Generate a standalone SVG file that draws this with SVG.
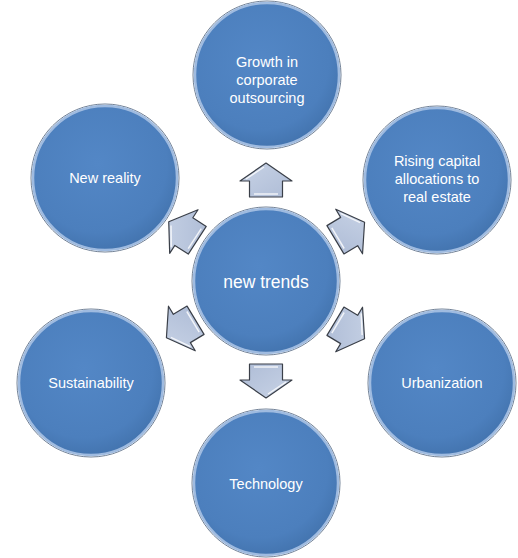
<svg xmlns="http://www.w3.org/2000/svg" width="518" height="558" viewBox="0 0 518 558">
<style>
.c{fill:url(#cg);stroke:#9fbbe0;stroke-width:2.5}
.co{fill:none;stroke:#6f7f95;stroke-width:1}
.t{font-family:"Liberation Sans",Arial,sans-serif;font-size:14.5px;fill:#ffffff;text-anchor:middle}
.big{font-size:17.5px}
.a{fill:url(#ag);stroke:#3a3f48;stroke-width:1.2;stroke-linejoin:round}
.ah{fill:none;stroke:#ffffff;stroke-width:1.5;opacity:0.8}
</style>
<defs>
<radialGradient id="cg" cx="0.45" cy="0.4" r="0.6">
<stop offset="0" stop-color="#5387c6"/>
<stop offset="0.8" stop-color="#4c7fbd"/>
<stop offset="1" stop-color="#4475b0"/>
</radialGradient>
<linearGradient id="ag" x1="0" y1="0" x2="1" y2="1">
<stop offset="0" stop-color="#c8d3e6"/>
<stop offset="1" stop-color="#aebcd6"/>
</linearGradient>
<g id="arrow">
<path class="a" d="M0,-17 L26,1 L16.5,1 L16.5,17 L-16.5,17 L-16.5,1 L-26,1 Z"/>
<path class="ah" d="M-12,14 L12,14 M-20,-1 L-2,-13"/>
</g>
</defs>
<g id="connectors">
<use href="#arrow" transform="translate(266,180)"/>
<use href="#arrow" transform="translate(266,381) rotate(180)"/>
<use href="#arrow" transform="translate(183,231) rotate(-57)"/>
<use href="#arrow" transform="translate(350,231) rotate(59)"/>
<use href="#arrow" transform="translate(181,329) rotate(-121)"/>
<use href="#arrow" transform="translate(350,330) rotate(121)"/>
</g>
<g id="center">
<circle class="co" cx="266" cy="281" r="74"/>
<circle class="c" cx="266" cy="281" r="72"/>
<text class="t big" x="266" y="288">new trends</text>
</g>
<g id="growth">
<circle class="co" cx="267" cy="75" r="74"/>
<circle class="c" cx="267" cy="75" r="72"/>
<text class="t" x="267" y="67">Growth in</text>
<text class="t" x="267" y="85">corporate</text>
<text class="t" x="267" y="103">outsourcing</text>
</g>
<g id="rising">
<circle class="co" cx="437" cy="180" r="74"/>
<circle class="c" cx="437" cy="180" r="72"/>
<text class="t" x="437" y="166">Rising capital</text>
<text class="t" x="437" y="184">allocations to</text>
<text class="t" x="437" y="202">real estate</text>
</g>
<g id="newreality">
<circle class="co" cx="105" cy="178" r="74"/>
<circle class="c" cx="105" cy="178" r="72"/>
<text class="t" x="105" y="183">New reality</text>
</g>
<g id="sustainability">
<circle class="co" cx="91" cy="383" r="74"/>
<circle class="c" cx="91" cy="383" r="72"/>
<text class="t" x="91" y="388">Sustainability</text>
</g>
<g id="urbanization">
<circle class="co" cx="442" cy="383" r="74"/>
<circle class="c" cx="442" cy="383" r="72"/>
<text class="t" x="442" y="388">Urbanization</text>
</g>
<g id="technology">
<circle class="co" cx="266" cy="483" r="74"/>
<circle class="c" cx="266" cy="483" r="72"/>
<text class="t" x="266" y="489">Technology</text>
</g>
</svg>
